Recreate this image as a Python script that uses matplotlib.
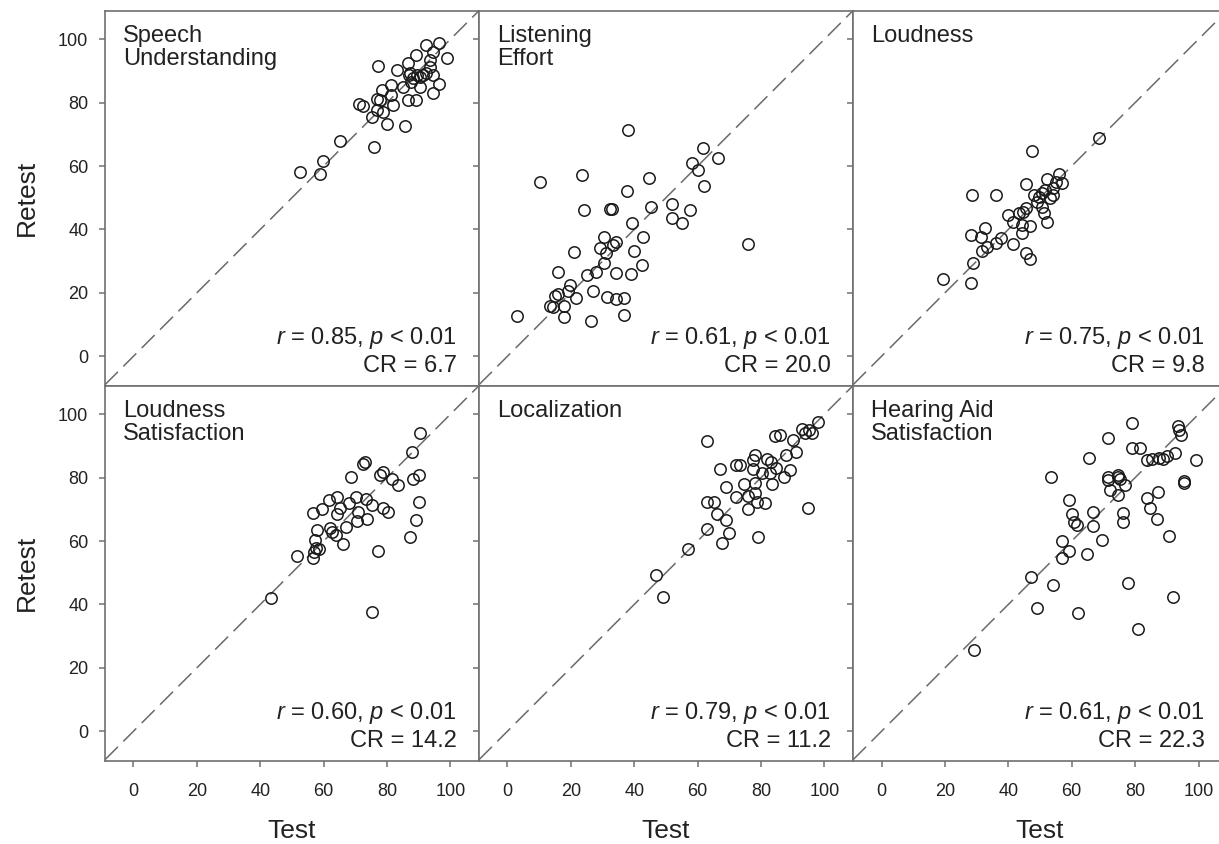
import numpy as np
import matplotlib.pyplot as plt

plt.rcParams['font.family'] = ['Liberation Sans', 'DejaVu Sans']
plt.rcParams['mathtext.fontset'] = 'custom'
plt.rcParams['mathtext.rm'] = 'Liberation Sans'
plt.rcParams['mathtext.it'] = 'Liberation Sans:italic'

# Speech Understanding
su_test = [52.5, 59, 59.7, 65.1, 76, 77, 80, 85.7, 71.1, 72.5, 75.1, 76.9, 78.8, 77.8,
           76.7, 78.3, 81.9, 81.4, 81.4, 83, 84.9, 86.7, 89.1, 86.5, 87.4, 87.7, 89.2,
           88.2, 90.3, 90.3, 91.3, 92.3, 96.5, 94.6, 93.7, 93.5, 94.6, 98.8, 96.3, 94.4,
           92.3, 89.4, 87]
su_retest = [58, 57.4, 61.6, 68, 66, 91.7, 73.3, 72.7, 79.5, 79, 75.6, 77.7, 77.2, 80.8,
             81.3, 84, 79.3, 82.5, 85.6, 90.3, 85, 80.8, 80.8, 92.4, 89.5, 86.6, 95,
             87.7, 85, 88.2, 88.8, 98.2, 98.9, 96, 93.4, 91.3, 88.8, 94, 86, 82.9,
             89.3, 88.8, 88.8]

# Listening Effort
le_test = [2.9, 10.2, 23.4, 38.1, 44.7, 37.6, 24.2, 32.3, 33.1, 45.3, 39.2, 51.8, 51.8,
           55.1, 57.6, 58.3, 61.6, 60, 62.1, 66.5, 30.5, 34.4, 33.3, 29.3, 31.1, 42.8,
           39.9, 21.1, 30.5, 42.5, 27.8, 25, 16, 34.2, 38.9, 19.7, 19, 15, 16, 13.4,
           14.5, 17.9, 17.9, 21.5, 26.9, 31.5, 34.4, 36.7, 36.7, 26.3, 76]
le_retest = [12.7, 55.1, 57.2, 71.4, 56.1, 52.1, 46.1, 46.4, 46.4, 47, 42, 47.9, 43.6,
             42, 46.1, 60.9, 65.6, 58.6, 53.7, 62.5, 37.7, 36.1, 35, 34, 32.5, 37.7,
             33.2, 32.8, 29.3, 28.8, 26.5, 25.5, 26.5, 26.4, 25.9, 22.5, 20.7, 19.1, 19.6,
             15.8, 15.6, 16, 12.4, 18.3, 20.6, 18.6, 18.1, 18.5, 13, 11.1, 35.5]

# Loudness
lo_test = [19.3, 28.1, 28.9, 28.6, 36, 28.1, 31.3, 32.6, 31.6, 33.2, 36, 37.7, 39.8, 41.6,
           41.6, 44.2, 43.4, 44.7, 45.5, 44.4, 46.8, 45.5, 46.8, 47.4, 45.5, 48, 49.6,
           50.7, 51.7, 52.3, 50.7, 51.2, 52.3, 49, 53, 54, 55, 56, 57, 54, 68.5]
lo_retest = [24.3, 23.2, 29.3, 50.9, 50.9, 38.2, 37.5, 40.3, 33.3, 34.5, 35.8, 37.4, 44.6,
             42.5, 35.4, 38.8, 45.3, 45.6, 46.7, 41.4, 41.2, 32.5, 30.7, 64.7, 54.3, 50.9,
             50.3, 51.4, 52.4, 55.8, 47.2, 45.1, 42.5, 48.7, 50, 53, 55, 57.5, 54.5, 51, 69]

# Loudness Satisfaction
ls_test = [43.3, 51.7, 75.1, 77.2, 87.4, 89.1, 90, 88.2, 90.1, 83.5, 81.6, 80.2, 78.6,
           78.8, 77.7, 68.5, 72.5, 73.2, 73.5, 75.1, 73.8, 70.6, 70.7, 70.2, 68, 67.2,
           66, 64.3, 64.1, 63.9, 62.5, 65.2, 61.7, 59.4, 56.7, 57.8, 57.2, 57.6, 58.6,
           56.7, 56.9, 62, 88, 90.5]
ls_retest = [41.9, 55.4, 37.7, 57, 61.2, 66.6, 72.4, 79.5, 80.8, 77.7, 79.5, 69.3, 70.4,
             81.9, 80.8, 80.3, 84.3, 85, 73.4, 71.3, 66.9, 66.4, 69.3, 73.8, 72.1, 64.3,
             59.1, 73.8, 68.5, 61.9, 63, 70.3, 72.9, 70, 68.7, 63.5, 60.3, 57.7, 57.4,
             54.5, 56.6, 64, 88, 94]

# Localization
lc_test = [49.1, 46.8, 57, 62.8, 67.8, 69.9, 68.9, 66, 62.8, 65.2, 68.8, 67, 72, 73.3, 72,
           74.6, 75.8, 75.8, 78.1, 78.7, 78, 81.2, 79.2, 77.6, 80.3, 83.6, 82.9, 84.6,
           87.4, 89, 94.9, 77.6, 83, 63, 84.5, 86, 88, 90, 91, 93, 94, 95, 96, 98, 82, 78]
lc_retest = [42.4, 49.3, 57.4, 63.8, 59.4, 62.6, 66.6, 68.5, 72.4, 72.4, 77.1, 82.7, 84,
             84, 74, 77.9, 74.2, 70, 75, 72.4, 78.2, 72.1, 61.4, 82.6, 81.6, 78, 81.4, 83,
             80.1, 82.4, 70.5, 85.5, 85, 91.5, 93, 93.5, 87, 92, 88, 95.5, 94, 95, 94,
             97.5, 86, 87]

# Hearing Aid Satisfaction
ha_test = [29.3, 49, 47.1, 54.2, 61.9, 56.8, 59.2, 57, 64.7, 69.6, 77.8, 80.8, 91.8, 90.8,
           86.8, 84.7, 83.7, 87.3, 95.5, 76.3, 76.3, 66.8, 66.6, 61.6, 60.7, 60.2, 59.2,
           53.5, 71.3, 72, 74.7, 75.2, 76.8, 74.5, 79.1, 71.5, 78.9, 81.5, 65.5, 83.6,
           85.2, 87.5, 88.9, 90.1, 92.5, 93.6, 93.9, 94.6, 99.2, 71.5, 74.7, 95.4]
ha_retest = [25.6, 38.8, 48.7, 46, 37.3, 54.6, 56.7, 59.9, 56, 60.2, 46.9, 32.2, 42.2, 61.6,
             66.9, 70.3, 73.7, 75.6, 78.4, 66.1, 69, 69.3, 64.8, 65.1, 66.1, 68.5, 72.9,
             80.2, 79.1, 76.2, 80.9, 79.5, 77.7, 74.6, 97.1, 92.4, 89.4, 89.4, 86.1, 85.5,
             86, 86.3, 86, 86.7, 87.8, 96.2, 94.9, 93.6, 85.5, 80.3, 80.3, 79]

titles = ['Speech\nUnderstanding', 'Listening\nEffort', 'Loudness',
          'Loudness\nSatisfaction', 'Localization', 'Hearing Aid\nSatisfaction']
r_vals = ['0.85', '0.61', '0.75', '0.60', '0.79', '0.61']
cr_vals = ['6.7', '20.0', '9.8', '14.2', '11.2', '22.3']
tests = [su_test, le_test, lo_test, ls_test, lc_test, ha_test]
retests = [su_retest, le_retest, lo_retest, ls_retest, lc_retest, ha_retest]

ticks = [0, 20, 40, 60, 80, 100]
lim = (-9, 109)
ylim = (-9.3, 109)

fig = plt.figure(figsize=(12.19, 8.44), dpi=100)
lefts = [0.0861, 0.3929, 0.6998]
bottoms = [0.543, 0.0987]
w, h = 0.3068, 0.4443
spine_col = '#707070'

for i in range(6):
    row, col = divmod(i, 3)
    ax = fig.add_axes([lefts[col], bottoms[row], w, h])
    ax.plot(lim, lim, color='#6a6a6a', lw=1.1, ls=(0, (12, 5)), zorder=1)
    ax.plot(tests[i], retests[i], 'o', mfc='none', mec='#1a1a1a', ms=8.2, mew=1.1, zorder=2)
    ax.set_xlim(lim)
    ax.set_ylim(ylim)
    ax.set_xticks(ticks)
    ax.set_yticks(ticks)
    for s in ax.spines.values():
        s.set_color(spine_col)
        s.set_linewidth(1.2)
    ax.tick_params(direction='out', length=4, width=1.1, color=spine_col,
                   labelsize=13, labelcolor='#222222')
    ax.tick_params(axis='x', pad=12)
    ax.tick_params(axis='y', pad=8)
    if col != 0:
        ax.tick_params(axis='y', labelleft=False)
    else:
        ax.set_ylabel('Retest', fontsize=19, color='#222222', labelpad=14)
    if row == 0:
        ax.tick_params(axis='x', labelbottom=False)
    else:
        ax.set_xlabel('Test', fontsize=19, color='#222222', labelpad=14)
    ax.text(0.048, 0.962, titles[i], transform=ax.transAxes, ha='left', va='top',
            fontsize=17, color='#222222', linespacing=1.08)
    ax.text(0.941, 0.11, '$\\it{r}$ = ' + r_vals[i] + ', $\\it{p}$ < 0.01',
            transform=ax.transAxes, ha='right', va='baseline', fontsize=17, color='#222222')
    ax.text(0.941, 0.037, 'CR = ' + cr_vals[i], transform=ax.transAxes, ha='right',
            va='baseline', fontsize=17, color='#222222')

fig.savefig('out.png', dpi=100)
